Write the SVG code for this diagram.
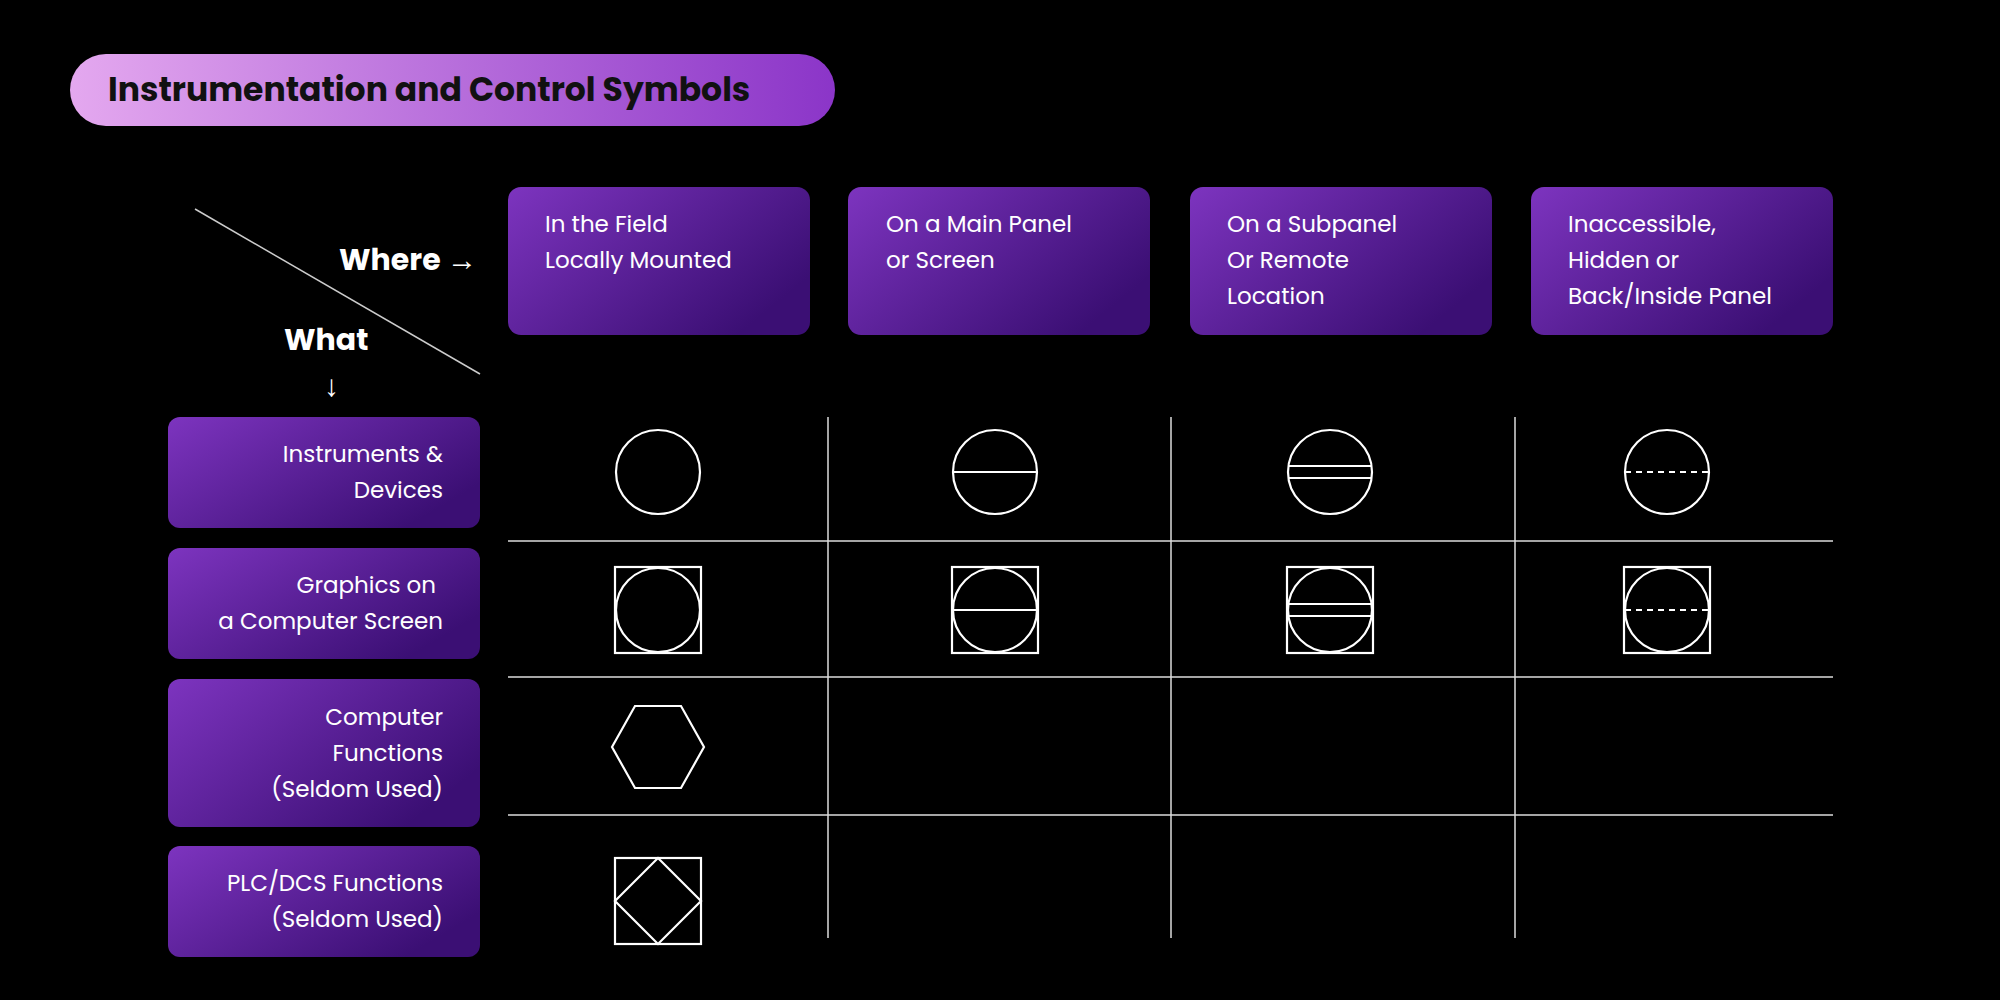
<svg xmlns="http://www.w3.org/2000/svg" width="2000" height="1000" viewBox="0 0 2000 1000">
<defs>
<linearGradient id="tg" x1="0" y1="0" x2="1" y2="0"><stop offset="0" stop-color="#e4a8ef"/><stop offset="1" stop-color="#8b35c8"/></linearGradient>
<linearGradient id="bg" x1="0" y1="0" x2="1" y2="0.6"><stop offset="0" stop-color="#7d34bf"/><stop offset="1" stop-color="#3b0f74"/></linearGradient>
<style>
.box{fill:url(#bg)}
.ht{font-family:Poppins,"Open Sans","Liberation Sans",sans-serif;font-size:23px;fill:#fff}
.rt{font-family:Poppins,"Open Sans","Liberation Sans",sans-serif;font-size:23px;fill:#fff;text-anchor:end}
.b{font-family:Poppins,"Open Sans","Liberation Sans",sans-serif;font-size:30px;font-weight:bold;fill:#fff}
.g{stroke:#ddd;stroke-width:1.5;fill:none}
.s{stroke:#fff;stroke-width:2.2;fill:none}
.d{stroke:#fff;stroke-width:2.2;stroke-dasharray:6 5;fill:none}
</style>
</defs>
<rect width="2000" height="1000" fill="#000"/>
<g id="title"><rect x="70" y="54" width="765" height="72" rx="36" fill="url(#tg)"/>
<text x="108" y="101" font-family="Poppins,'Open Sans','Liberation Sans',sans-serif" font-size="33" font-weight="bold" fill="#111">Instrumentation and Control Symbols</text></g>
<g id="corner"><line x1="195" y1="209" x2="480" y2="374" stroke="#ccc" stroke-width="1.5"/>
<text class="b" x="477" y="270" text-anchor="end">Where →</text>
<text class="b" x="284" y="350">What</text>
<text class="b" x="324" y="396" font-weight="normal">↓</text></g>
<g id="h1"><rect class="box" x="508" y="187" width="302" height="148" rx="13"/><text class="ht" x="545" y="232">In the Field</text><text class="ht" x="545" y="268">Locally Mounted</text></g>
<g id="h2"><rect class="box" x="848" y="187" width="302" height="148" rx="13"/><text class="ht" x="886" y="232">On a Main Panel</text><text class="ht" x="886" y="268"> or Screen</text></g>
<g id="h3"><rect class="box" x="1190" y="187" width="302" height="148" rx="13"/><text class="ht" x="1227" y="232">On a Subpanel</text><text class="ht" x="1227" y="268">Or Remote</text><text class="ht" x="1227" y="304">Location</text></g>
<g id="h4"><rect class="box" x="1531" y="187" width="302" height="148" rx="13"/><text class="ht" x="1568" y="232">Inaccessible,</text><text class="ht" x="1568" y="268">Hidden or</text><text class="ht" x="1568" y="304">Back/Inside Panel</text></g>
<g id="r1"><rect class="box" x="168" y="417" width="312" height="111" rx="12"/><text class="rt" x="443" y="462">Instruments &amp;</text><text class="rt" x="443" y="498">Devices</text></g>
<g id="r2"><rect class="box" x="168" y="548" width="312" height="111" rx="12"/><text class="rt" x="436" y="593">Graphics on</text><text class="rt" x="443" y="629">a Computer Screen</text></g>
<g id="r3"><rect class="box" x="168" y="679" width="312" height="148" rx="12"/><text class="rt" x="443" y="725">Computer</text><text class="rt" x="443" y="761">Functions</text><text class="rt" x="443" y="797">(Seldom Used)</text></g>
<g id="r4"><rect class="box" x="168" y="846" width="312" height="111" rx="12"/><text class="rt" x="443" y="891">PLC/DCS Functions</text><text class="rt" x="443" y="927">(Seldom Used)</text></g>
<g id="grid">
<line class="g" x1="828" y1="417" x2="828" y2="938"/><line class="g" x1="1171" y1="417" x2="1171" y2="938"/><line class="g" x1="1515" y1="417" x2="1515" y2="938"/>
<line class="g" x1="508" y1="541" x2="1833" y2="541"/><line class="g" x1="508" y1="677" x2="1833" y2="677"/><line class="g" x1="508" y1="815" x2="1833" y2="815"/>
</g>
<g id="symbols">
<circle class="s" cx="658" cy="472" r="42"/>
<circle class="s" cx="995" cy="472" r="42"/><line class="s" x1="953" y1="472" x2="1037" y2="472"/>
<circle class="s" cx="1330" cy="472" r="42"/><line class="s" x1="1288.5" y1="466" x2="1371.5" y2="466"/><line class="s" x1="1288.5" y1="478" x2="1371.5" y2="478"/>
<circle class="s" cx="1667" cy="472" r="42"/><line class="d" x1="1625" y1="472" x2="1709" y2="472"/>
<rect class="s" x="615" y="567" width="86" height="86"/><circle class="s" cx="658" cy="610" r="42"/>
<rect class="s" x="952" y="567" width="86" height="86"/><circle class="s" cx="995" cy="610" r="42"/><line class="s" x1="953" y1="610" x2="1037" y2="610"/>
<rect class="s" x="1287" y="567" width="86" height="86"/><circle class="s" cx="1330" cy="610" r="42"/><line class="s" x1="1288.5" y1="604" x2="1371.5" y2="604"/><line class="s" x1="1288.5" y1="616" x2="1371.5" y2="616"/>
<rect class="s" x="1624" y="567" width="86" height="86"/><circle class="s" cx="1667" cy="610" r="42"/><line class="d" x1="1625" y1="610" x2="1709" y2="610"/>
<polygon class="s" points="612,747 635,706 681,706 704,747 681,788 635,788"/>
<rect class="s" x="615" y="858" width="86" height="86"/><polygon class="s" points="658,858 701,901 658,944 615,901"/>
</g>
</svg>
